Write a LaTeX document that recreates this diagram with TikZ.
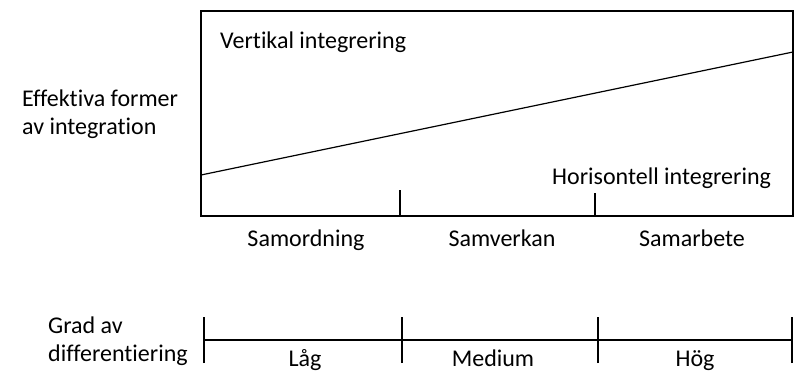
\documentclass[tikz,border=0pt]{standalone}
\usepackage{fontspec}
\setmainfont{Carlito}[Ligatures=NoCommon]
\usetikzlibrary{positioning}
\tikzstyle{frame} = [draw,line width=1.2pt,rectangle,inner sep=0,minimum width=592pt,minimum height=205pt]
\tikzstyle{txt} = [inner sep=0,font=\fontsize{24}{28}\selectfont]
\tikzstyle{ruler} = [-,line width=1.2pt]
\def \tk {26}

\begin{document}
\begin{tikzpicture}[x=1pt,y=-1pt]
      \useasboundingbox (0,0) rectangle (798,372);
      % upper panel
      \node[frame] (box) at (497,113.5) {};
      \coordinate (lo) at (201,175);
      \coordinate (hi) at (793,52);
      \draw[ruler] (lo) -- (hi);
      \coordinate (a1) at (400,216);
      \coordinate (a2) at (595,216);
      \draw[ruler] (a1) -- +(0,-\tk);
      \draw[ruler] (a2) -- +(0,-23);
      \node[txt,anchor=base west] (vert) at (220,48) {Vertikal integrering};
      \node[txt,anchor=base west] (hori) at (552,184) {Horisontell integrering};
      \node[txt,anchor=north west,align=left] (eff) at (22,90) {Effektiva former\\av integration};
      \node[txt,anchor=base] (sord) at (306,246) {Samordning};
      \node[txt,anchor=base] (sver) at (502,246) {Samverkan};
      \node[txt,anchor=base] (sarb) at (692,246) {Samarbete};
      % lower scale
      \coordinate (b0) at (204,340);
      \coordinate (b1) at (402,340);
      \coordinate (b2) at (598,340);
      \coordinate (b3) at (792,340);
      \draw[ruler] (b0) -- (b3);
      \foreach \b in {b0,b1,b2,b3}
        \draw[ruler] ([yshift=-23pt]\b) -- ([yshift=23pt]\b);
      \node[txt,anchor=north west,align=left] (grad) at (48,317) {Grad av\\differentiering};
      \node[txt,anchor=base] (lag) at (305,366) {Låg};
      \node[txt,anchor=base] (med) at (493,366) {Medium};
      \node[txt,anchor=base] (hog) at (695,366) {Hög};
    \end{tikzpicture}
\end{document}
